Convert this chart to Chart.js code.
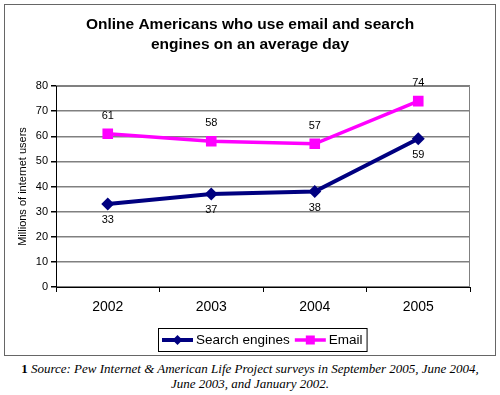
<!DOCTYPE html>
<html>
<head>
<meta charset="utf-8">
<script src="https://cdn.jsdelivr.net/npm/chart.js@4/dist/chart.umd.min.js"></script>
<style>
  body { margin: 0; background: #fff; }
  #wrap { position: relative; width: 500px; height: 395px; }
  #chart { position: absolute; left: 0; top: 0; }
  #note {
    position: absolute; left: 0; top: 361px; width: 500px;
    text-align: center; font: italic 13px "Liberation Serif", "Times New Roman", serif;
    line-height: 15px; color: #000;
  }
  #note b { font-style: normal; }
</style>
</head>
<body>
<div id="wrap">
  <canvas id="chart" width="500" height="360"></canvas>
  <div id="note"><b>1</b> Source: Pew Internet &amp; American Life Project surveys in September 2005, June 2004,<br>June 2003, and January 2002.</div>
</div>
<script>
const years = ["2002", "2003", "2004", "2005"];
const searchEngines = [33, 37, 38, 59];
const email = [61, 58, 57, 74];
const yTicks = [0, 10, 20, 30, 40, 50, 60, 70, 80];

const titleLines = ["Online Americans who use email and search", "engines on an average day"];
const yTitle = "Millions of internet users";

const FONT = '"Liberation Sans", Arial, sans-serif';
Chart.defaults.font.family = FONT;
Chart.defaults.color = "#000";

// title, frame, axis title, legend box and value labels
const decor = {
  id: "decor",
  beforeDraw(chart) {
    const ctx = chart.ctx;
    ctx.save();
    ctx.fillStyle = "#fff";
    ctx.fillRect(0, 0, chart.width, chart.height);
    ctx.strokeStyle = "#666";
    ctx.lineWidth = 1;
    ctx.strokeRect(4.5, 4.5, 491, 351);

    ctx.fillStyle = "#000";
    ctx.font = "bold 15.5px " + FONT;
    ctx.textAlign = "center";
    ctx.textBaseline = "middle";
    titleLines.forEach((t, i) => ctx.fillText(t, 250, 25 + i * 20));

    ctx.font = "11px " + FONT;
    ctx.translate(23, (chart.chartArea.top + chart.chartArea.bottom) / 2);
    ctx.rotate(-Math.PI / 2);
    ctx.fillText(yTitle, 0, 0);
    ctx.restore();
  },
  beforeDatasetsDraw(chart) {
    const { ctx, chartArea: a } = chart;
    ctx.save();
    ctx.lineWidth = 1;
    ctx.strokeStyle = "#808080";
    ctx.beginPath();
    ctx.moveTo(a.left, a.top + 0.5);
    ctx.lineTo(a.right - 0.5, a.top + 0.5);
    ctx.lineTo(a.right - 0.5, a.bottom);
    ctx.stroke();
    ctx.strokeStyle = "#000";
    ctx.beginPath();
    ctx.moveTo(a.left + 0.5, a.top);
    ctx.lineTo(a.left + 0.5, a.bottom + 0.5);
    ctx.lineTo(a.right, a.bottom + 0.5);
    ctx.stroke();
    ctx.restore();
  },
  afterDatasetsDraw(chart) {
    const ctx = chart.ctx;
    ctx.save();
    ctx.font = "11px " + FONT;
    ctx.fillStyle = "#000";
    ctx.textAlign = "center";
    ctx.textBaseline = "middle";
    chart.data.datasets.forEach((ds, i) => {
      const off = i === 0 ? 16 : -18;
      chart.getDatasetMeta(i).data.forEach((pt, j) => {
        ctx.fillText(String(ds.data[j]), pt.x, pt.y + off);
      });
    });
    ctx.restore();
  },
  afterDraw(chart) {
    const ctx = chart.ctx;
    ctx.save();
    ctx.font = "13.5px " + FONT;
    ctx.textBaseline = "middle";
    const sample = 31, gap = 3, pad = 4;
    const items = chart.data.datasets.map(ds => ({ ds, w: ctx.measureText(ds.label).width }));
    let total = pad * 2;
    items.forEach((it, i) => { total += sample + gap + it.w + (i < items.length - 1 ? 5 : 0); });
    const cx = 262.5, y = 340;
    const left = Math.round(cx - total / 2);
    ctx.strokeStyle = "#000";
    ctx.lineWidth = 1;
    ctx.strokeRect(left + 0.5, 328.5, total, 23);
    let x = left + pad;
    items.forEach(it => {
      const ds = it.ds;
      ctx.strokeStyle = ds.borderColor;
      ctx.lineWidth = ds.borderWidth;
      ctx.beginPath();
      ctx.moveTo(x, y);
      ctx.lineTo(x + sample, y);
      ctx.stroke();
      ctx.fillStyle = ds.borderColor;
      const mx = x + sample / 2;
      if (ds.pointStyle === "rectRot") {
        ctx.beginPath();
        ctx.moveTo(mx, y - 5); ctx.lineTo(mx + 5, y); ctx.lineTo(mx, y + 5); ctx.lineTo(mx - 5, y);
        ctx.closePath(); ctx.fill();
      } else {
        ctx.fillRect(mx - 4.5, y - 4.5, 9, 9);
      }
      x += sample + gap;
      ctx.fillStyle = "#000";
      ctx.fillText(ds.label, x, y);
      x += it.w + 5;
    });
    ctx.restore();
  }
};

new Chart(document.getElementById("chart").getContext("2d"), {
  type: "line",
  data: {
    labels: years,
    datasets: [
      {
        label: "Search engines",
        data: searchEngines,
        borderColor: "#000080",
        backgroundColor: "#000080",
        borderWidth: 4,
        pointStyle: "rectRot",
        pointRadius: 6.5,
        pointBorderWidth: 0,
        tension: 0
      },
      {
        label: "Email",
        data: email,
        borderColor: "#FF00FF",
        backgroundColor: "#FF00FF",
        borderWidth: 3.5,
        pointStyle: "rect",
        pointRadius: 7.5,
        pointBorderWidth: 0,
        tension: 0
      }
    ]
  },
  options: {
    responsive: false,
    animation: false,
    layout: { padding: { top: 86, right: 30, left: 0, bottom: 0 } },
    plugins: {
      legend: { display: false },
      title: { display: false },
      tooltip: { enabled: false }
    },
    scales: {
      x: {
        offset: true,
        grid: { offset: true, drawOnChartArea: false, tickLength: 5, tickColor: "#000" },
        border: { display: false },
        ticks: { font: { size: 14 }, padding: 7, color: "#000" },
        afterFit: s => { s.height = 73; }
      },
      y: {
        min: yTicks[0],
        max: yTicks[yTicks.length - 1],
        afterBuildTicks: s => { s.ticks = yTicks.map(v => ({ value: v })); },
        grid: { color: "#808080", lineWidth: 1.5, tickLength: 5, tickColor: "#000" },
        border: { display: false },
        ticks: { font: { size: 11 }, padding: 3, color: "#000" },
        afterFit: s => { s.width = 56; }
      }
    }
  },
  plugins: [decor]
});
</script>
</body>
</html>
